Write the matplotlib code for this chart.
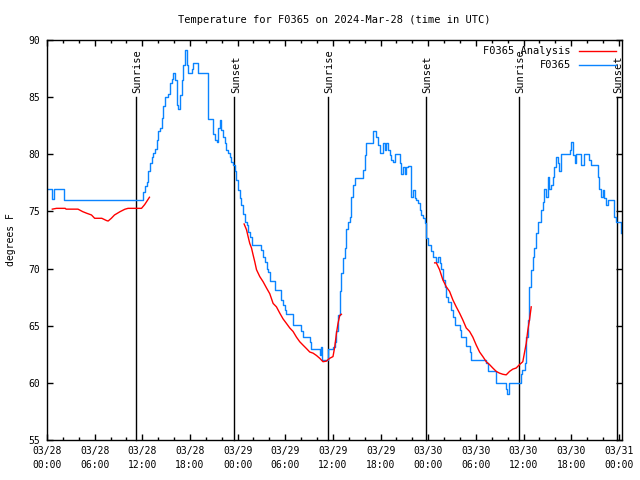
import numpy as np
import pandas as pd
import matplotlib
matplotlib.use('Agg')
import matplotlib.pyplot as plt
import matplotlib.dates as mdates

START = pd.Timestamp('2024-03-28 00:00')

# F0365 observations: hours after 03/28 00:00 UTC, deg F (value holds until next point)
obs_hours = [0.16, 0.67, 0.88, 2.14, 12.1, 12.33, 12.54, 12.74, 12.96, 13.17, 13.37, 13.58,
             13.8, 14.0, 14.21, 14.43, 14.63, 14.84, 15.26, 15.47, 15.69, 15.89, 16.1, 16.31,
             16.52, 16.73, 16.94, 17.14, 17.36, 17.57, 17.77, 18.2, 18.4, 19.03, 20.29, 20.92,
             21.13, 21.35, 21.55, 21.76, 21.97, 22.18, 22.39, 22.6, 22.8, 23.02, 23.23, 23.43,
             23.65, 23.86, 24.06, 24.28, 24.49, 24.69, 24.91, 25.12, 25.32, 25.53, 25.75, 27.0,
             27.21, 27.42, 27.64, 27.84, 28.05, 28.68, 29.52, 29.72, 29.94, 30.15, 30.98, 32.04,
             32.24, 33.08, 33.3, 34.34, 34.5, 34.6, 35.4, 36.01, 36.23, 36.44, 36.64, 36.86,
             37.07, 37.27, 37.48, 37.7, 37.9, 38.11, 38.33, 38.53, 38.74, 39.79, 40.0, 40.21,
             41.04, 41.47, 41.67, 41.89, 42.3, 42.52, 42.73, 42.93, 43.14, 43.36, 43.56, 43.77,
             44.4, 44.62, 44.82, 45.03, 45.25, 45.45, 45.87, 46.08, 46.29, 46.5, 46.7, 46.92,
             47.13, 47.33, 47.55, 47.76, 47.96, 48.39, 48.59, 49.02, 49.22, 49.43, 49.65, 49.85,
             50.06, 50.28, 50.48, 50.91, 51.11, 51.32, 51.95, 52.16, 52.79, 53.21, 53.42, 55.31,
             55.5, 56.57, 57.82, 57.95, 58.11, 59.62, 59.87, 60.13, 60.34, 60.54, 60.75, 60.97,
             61.17, 61.38, 61.6, 61.8, 62.23, 62.43, 62.64, 62.86, 63.06, 63.27, 63.48, 63.69,
             63.9, 64.11, 64.31, 64.53, 64.74, 65.79, 66.0, 66.2, 66.42, 66.63, 67.26, 67.67,
             68.3, 68.51, 69.35, 69.56, 69.77, 69.97, 70.19, 70.4, 70.6, 71.45, 71.66, 72.29,
             72.33]
obs_temp = [77.0, 76.1, 77.0, 76.0, 76.7, 77.2, 77.6, 78.5, 79.2, 79.8, 80.1, 80.5,
            81.25, 82.0, 82.3, 83.15, 84.2, 85.0, 85.3, 86.2, 86.6, 87.1, 86.5, 84.3,
            84.0, 85.2, 86.5, 87.8, 89.1, 87.8, 87.1, 87.5, 88.0, 87.1, 83.1, 81.8,
            81.25, 81.1, 82.3, 83.0, 82.1, 81.5, 81.0, 80.4, 80.1, 79.8, 79.35, 79.1,
            78.5, 77.75, 76.9, 76.15, 75.6, 74.8, 74.1, 73.8, 73.2, 72.8, 72.1, 71.6,
            71.0, 70.6, 70.0, 69.7, 68.9, 68.1, 67.25, 66.8, 66.4, 66.0, 65.1, 64.5,
            64.0, 63.6, 63.0, 62.4, 63.1, 62.0, 63.0, 63.15, 63.6, 64.5, 65.9, 68.0,
            69.6, 70.9, 71.8, 73.5, 74.1, 74.5, 76.3, 77.3, 77.9, 78.6, 79.9, 81.0,
            82.0, 81.5, 80.8, 80.1, 81.0, 80.4, 81.0, 80.4, 79.9, 79.5, 79.35, 80.0,
            79.2, 78.3, 78.9, 78.3, 78.9, 79.0, 76.3, 76.9, 76.15, 76.0, 75.7, 75.1,
            74.7, 74.4, 74.0, 72.65, 72.1, 71.5, 71.0, 70.6, 71.0, 70.5, 70.0, 69.0,
            68.4, 67.5, 67.1, 66.4, 65.8, 65.1, 64.6, 64.0, 63.2, 62.7, 62.0, 61.7,
            61.0, 60.0, 59.5, 59.0, 60.0, 60.8, 61.1, 61.7, 64.0, 65.5, 68.4, 69.9,
            71.0, 71.8, 73.1, 74.1, 75.1, 75.85, 77.0, 76.3, 78.0, 77.0, 77.3, 78.0,
            78.9, 79.8, 79.2, 78.5, 80.0, 80.4, 81.05, 79.9, 79.2, 80.0, 79.1, 80.0,
            79.5, 79.1, 78.0, 77.0, 76.3, 76.9, 76.15, 75.55, 76.0, 74.5, 74.1, 73.7,
            73.1]

# F0365 analysis, three separate runs
ana1_hours = [0.67, 1.2, 2.3, 2.4, 3.9, 4.5, 5.0, 5.6, 6.0, 6.9, 7.5, 7.7, 8.1, 8.5,
              9.2, 9.8, 10.2, 11.9, 12.3, 12.9]
ana1_temp = [75.2, 75.27, 75.27, 75.2, 75.2, 74.98, 74.84, 74.69, 74.4, 74.4, 74.2, 74.16,
             74.4, 74.69, 74.98, 75.19, 75.27, 75.27, 75.6, 76.24]
ana2_hours = [24.82, 25.12, 25.32, 25.53, 25.75, 25.95, 26.16, 26.38, 26.79, 27.21, 27.64,
              28.05, 28.47, 28.89, 29.31, 29.72, 30.15, 30.57, 30.98, 31.41, 31.82, 32.24,
              32.67, 33.08, 33.5, 33.92, 34.34, 34.75, 35.18, 35.6, 36.01, 36.23, 36.44,
              36.64, 36.86, 37.07]
ana2_temp = [73.9, 73.4, 72.8, 72.2, 71.8, 71.2, 70.6, 69.9, 69.3, 68.85, 68.3, 67.8, 66.95,
             66.65, 66.1, 65.6, 65.2, 64.8, 64.5, 64.0, 63.6, 63.3, 63.0, 62.7, 62.6, 62.4,
             62.15, 61.85, 61.9, 62.15, 62.3, 63.15, 64.3, 65.2, 65.9, 66.0]
ana3_hours = [48.81, 49.02, 49.43, 49.85, 50.28, 50.69, 51.11, 51.53, 51.95, 52.36, 52.79,
              53.21, 53.62, 54.05, 54.47, 54.88, 55.31, 55.72, 56.13, 56.57, 56.98, 57.4,
              57.82, 58.24, 58.65, 59.08, 59.5, 59.91, 60.34, 60.54, 60.75, 60.97]
ana3_temp = [70.5, 70.5, 69.9, 69.0, 68.4, 68.0, 67.25, 66.65, 66.1, 65.5, 64.8, 64.5, 64.0,
             63.3, 62.7, 62.3, 61.85, 61.6, 61.3, 61.0, 60.85, 60.75, 60.7, 61.0, 61.2, 61.3,
             61.6, 61.85, 63.45, 64.6, 65.5, 66.65]

sunrise_hours = [11.2, 35.37, 59.4]
sunset_hours = [23.57, 47.73, 71.75]


def to_time(hours):
    return START + pd.to_timedelta(np.asarray(hours), unit='h')


plt.rcParams['font.family'] = 'DejaVu Sans Mono'
plt.rcParams['font.size'] = 7

fig = plt.figure(figsize=(6.4, 4.8), dpi=100)
ax = fig.add_axes([47 / 640, 40 / 480, 575 / 640, 400 / 480])

red = '#ff0000'
blue = '#0a84ff'
ax.plot(to_time(ana1_hours), ana1_temp, color=red, lw=1.0, label='F0365 Analysis', zorder=3)
ax.plot(to_time(ana2_hours), ana2_temp, color=red, lw=1.0, zorder=3)
ax.plot(to_time(ana3_hours), ana3_temp, color=red, lw=1.0, zorder=3)
ax.plot(to_time(obs_hours), obs_temp, color=blue, lw=1.0, drawstyle='steps-post',
        label='F0365', zorder=2)

for name, hrs in (('Sunrise', sunrise_hours), ('Sunset', sunset_hours)):
    for h in hrs:
        t = to_time([h])[0]
        ax.plot([t, t], [55, 85], color='black', lw=1.0, zorder=1, clip_on=False)
        ax.text(to_time([h + 0.2])[0], 85.4, name, rotation=90, ha='center', va='bottom',
                fontsize=7.5, clip_on=False)

ax.set_xlim(to_time([0])[0], to_time([72.4])[0])
ax.set_ylim(55, 90)
ax.set_yticks(np.arange(55, 91, 5))
ax.xaxis.set_major_locator(mdates.HourLocator(byhour=range(0, 24, 6)))
ax.xaxis.set_minor_locator(mdates.HourLocator(byhour=range(0, 24, 2)))
ax.xaxis.set_major_formatter(mdates.DateFormatter('%m/%d\n%H:%M'))
ax.tick_params(which='both', direction='in', top=True, right=True, width=1.0)
ax.tick_params(which='major', length=4.5)
ax.tick_params(which='minor', length=2.5)
ax.tick_params(axis='x', pad=4)
ax.tick_params(axis='y', pad=5)
for lab in ax.get_xticklabels():
    lab.set_linespacing(1.5)
for sp in ax.spines.values():
    sp.set_linewidth(1.0)

ax.set_ylabel('degrees F', labelpad=9)
ax.set_title('Temperature for F0365 on 2024-Mar-28 (time in UTC)', fontsize=7.5, pad=12)

ax.legend(loc='upper right', frameon=False, markerfirst=False, handlelength=3.5,
          fontsize=7.5, borderaxespad=0.2, labelspacing=0.4)

fig.savefig('out.png', dpi=100)
